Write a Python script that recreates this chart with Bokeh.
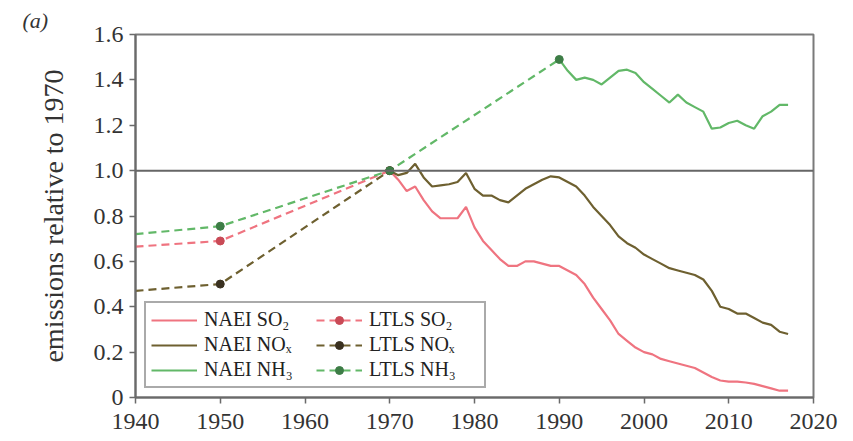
from bokeh.plotting import figure
from bokeh.models import Span, Legend, LegendItem, FixedTicker, Range1d
from bokeh.embed import file_html
from bokeh.resources import INLINE

# ---- data ----
naei_years_70 = list(range(1970, 2018))
naei_so2 = [1.00, 0.96, 0.91, 0.93, 0.87, 0.82, 0.79, 0.79, 0.79, 0.84,
            0.75, 0.69, 0.65, 0.61, 0.58, 0.58, 0.60, 0.60, 0.59, 0.58,
            0.58, 0.56, 0.54, 0.50, 0.44, 0.39, 0.34, 0.28, 0.25, 0.22,
            0.20, 0.19, 0.17, 0.16, 0.15, 0.14, 0.13, 0.11, 0.09, 0.075,
            0.07, 0.07, 0.066, 0.06, 0.05, 0.04, 0.03, 0.03]
naei_nox = [1.00, 0.98, 0.99, 1.03, 0.97, 0.93, 0.935, 0.94, 0.95, 0.99,
            0.92, 0.89, 0.89, 0.87, 0.86, 0.89, 0.92, 0.94, 0.96, 0.975,
            0.97, 0.95, 0.93, 0.89, 0.84, 0.80, 0.76, 0.71, 0.68, 0.66,
            0.63, 0.61, 0.59, 0.57, 0.56, 0.55, 0.54, 0.52, 0.47, 0.40,
            0.39, 0.37, 0.37, 0.35, 0.33, 0.32, 0.29, 0.28]
naei_years_90 = list(range(1990, 2018))
naei_nh3 = [1.49, 1.44, 1.40, 1.41, 1.40, 1.38, 1.41, 1.44, 1.445, 1.43,
            1.39, 1.36, 1.33, 1.30, 1.335, 1.30, 1.28, 1.26, 1.185, 1.19,
            1.21, 1.22, 1.20, 1.185, 1.24, 1.26, 1.29, 1.29]

ltls_years_so2 = [1940, 1950, 1970]
ltls_so2 = [0.665, 0.69, 1.00]
ltls_years_nox = [1940, 1950, 1970]
ltls_nox = [0.47, 0.50, 1.00]
ltls_years_nh3 = [1940, 1950, 1970, 1990]
ltls_nh3 = [0.72, 0.755, 1.00, 1.49]
ltls_marker_years_so2 = [1950, 1970]
ltls_marker_years_nox = [1950, 1970]
ltls_marker_years_nh3 = [1950, 1970, 1990]

x_ticks = [1940, 1950, 1960, 1970, 1980, 1990, 2000, 2010, 2020]
y_ticks = [0, 0.2, 0.4, 0.6, 0.8, 1.0, 1.2, 1.4, 1.6]
y_tick_labels = ["0", "0.2", "0.4", "0.6", "0.8", "1.0", "1.2", "1.4", "1.6"]

# ---- styles ----
FONT = "Liberation Serif"
c_so2, c_so2_m = "#ef7480", "#c94a56"
c_nox, c_nox_m = "#6e6030", "#3a3120"
c_nh3, c_nh3_m = "#62b868", "#3d7d46"

p = figure(width=845, height=439, output_backend="svg", toolbar_location=None,
           x_range=Range1d(1940, 2020), y_range=Range1d(0, 1.6),
           min_border_left=135, min_border_right=32, min_border_top=34,
           min_border_bottom=42)
p.xgrid.visible = False
p.ygrid.visible = False
p.outline_line_color = "#7a7a7a"
p.outline_line_width = 2
p.background_fill_color = "white"
p.border_fill_color = "white"

p.title.text = "(a)"
p.title.text_font = FONT
p.title.text_font_size = "22px"
p.title.text_font_style = "italic"
p.title.text_color = "#333333"
p.title.align = "left"
p.title.offset = -113
p.title.standoff = 3

for ax in (p.xaxis[0], p.yaxis[0]):
    ax.axis_line_color = "#6a6a6a"
    ax.axis_line_width = 2
    ax.major_tick_line_color = "#6a6a6a"
    ax.major_tick_line_width = 1.5
    ax.major_tick_out = 6
    ax.major_tick_in = 0
    ax.minor_tick_line_color = None
    ax.major_label_text_font = FONT
    ax.major_label_text_font_size = "24px"
    ax.major_label_text_color = "#333333"

p.xaxis.ticker = FixedTicker(ticks=x_ticks)
p.yaxis.ticker = FixedTicker(ticks=y_ticks)
p.yaxis.major_label_overrides = {t: l for t, l in zip(y_ticks, y_tick_labels)}
p.xaxis.major_label_standoff = 10
p.yaxis.major_label_standoff = 6
p.yaxis.axis_label = "emissions relative to 1970"
p.yaxis.axis_label_text_font = FONT
p.yaxis.axis_label_text_font_size = "28px"
p.yaxis.axis_label_text_font_style = "normal"
p.yaxis.axis_label_text_color = "#333333"
p.yaxis.axis_label_standoff = 22

p.add_layout(Span(location=1.0, dimension="width", line_color="#666666", line_width=2))

dash = "8 5"
r_lso2 = p.line(ltls_years_so2, ltls_so2, line_color=c_so2, line_width=2.2, line_dash=dash)
r_lnox = p.line(ltls_years_nox, ltls_nox, line_color=c_nox, line_width=2.2, line_dash=dash)
r_lnh3 = p.line(ltls_years_nh3, ltls_nh3, line_color=c_nh3, line_width=2.2, line_dash=dash)

r_so2 = p.line(naei_years_70, naei_so2, line_color=c_so2, line_width=2.2)
r_nox = p.line(naei_years_70, naei_nox, line_color=c_nox, line_width=2.2)
r_nh3 = p.line(naei_years_90, naei_nh3, line_color=c_nh3, line_width=2.2)

m_so2 = p.scatter(ltls_marker_years_so2, [ltls_so2[ltls_years_so2.index(y)] for y in ltls_marker_years_so2],
                  size=8, color=c_so2_m)
m_nox = p.scatter(ltls_marker_years_nox, [ltls_nox[ltls_years_nox.index(y)] for y in ltls_marker_years_nox],
                  size=8, color=c_nox_m)
m_nh3 = p.scatter(ltls_marker_years_nh3, [ltls_nh3[ltls_years_nh3.index(y)] for y in ltls_marker_years_nh3],
                  size=8, color=c_nh3_m)

items = [
    LegendItem(label="NAEI SO₂", renderers=[r_so2]),
    LegendItem(label="NAEI NOₓ", renderers=[r_nox]),
    LegendItem(label="NAEI NH₃", renderers=[r_nh3]),
    LegendItem(label="LTLS SO₂", renderers=[r_lso2, m_so2]),
    LegendItem(label="LTLS NOₓ", renderers=[r_lnox, m_nox]),
    LegendItem(label="LTLS NH₃", renderers=[r_lnh3, m_nh3]),
]
legend = Legend(items=items, location=(9, 9), ncols=2,
                label_text_font=FONT, label_text_font_size="20px",
                label_text_color="#222222",
                glyph_width=46, glyph_height=20, label_height=20, label_width=110,
                label_standoff=7, spacing=2, padding=5, margin=0,
                border_line_color="#555555", border_line_width=2,
                background_fill_alpha=1.0)
p.add_layout(legend, "center")

open("out.html", "w").write(file_html(p, INLINE))
